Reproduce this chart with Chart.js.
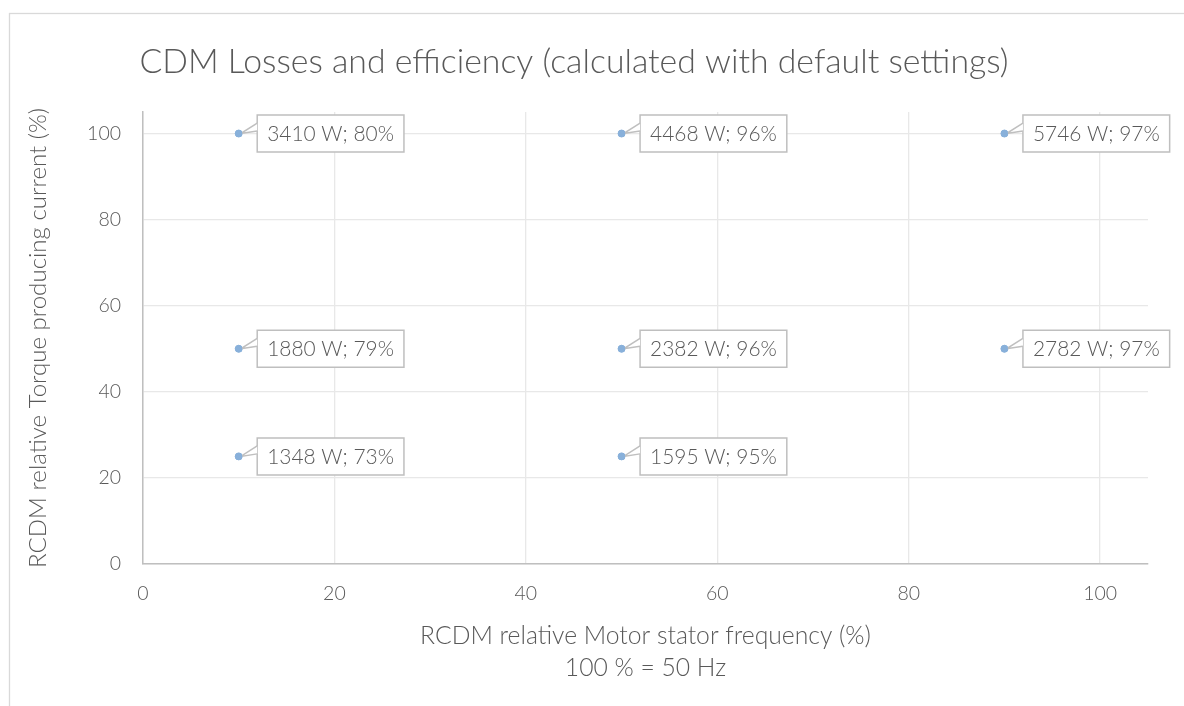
<!DOCTYPE html>
<html>
<head>
<meta charset="utf-8">
<script src="https://cdn.jsdelivr.net/npm/chart.js@4/dist/chart.umd.min.js"></script>
<style>
html,body{margin:0;padding:0;background:#fff;}
#wrap{position:relative;width:1184px;height:706px;}
</style>
</head>
<body>
<div id="wrap"><canvas id="c" width="1184" height="706"></canvas></div>
<script>
// ---- Data ----
const freq = [10, 10, 10, 50, 50, 50, 90, 90];          // RCDM relative Motor stator frequency (%)
const torque = [100, 50, 25, 100, 50, 25, 100, 50];     // RCDM relative Torque producing current (%)
const losses = [3410, 1880, 1348, 4468, 2382, 1595, 5746, 2782]; // W
const efficiency = [80, 79, 73, 96, 96, 95, 97, 97];    // %
const xTicks = [0, 20, 40, 60, 80, 100];
const yTicks = [0, 20, 40, 60, 80, 100];

const titleText = 'CDM Losses and efficiency (calculated with default settings)';
const xTitle = ['RCDM relative Motor stator frequency (%)', '100 % = 50 Hz'];
const yTitle = 'RCDM relative Torque producing current (%)';

const points = freq.map((f, i) => ({x: f, y: torque[i]}));
const labels = losses.map((l, i) => `${l} W; ${efficiency[i]}%`);

const FONT = 'Lato, "Open Sans", sans-serif';
const TXT = '#595959';

// font sizes fitted to the widths seen in the reference
const mctx = document.createElement('canvas').getContext('2d');
function fit(text, target) {
  mctx.font = '300 100px ' + FONT;
  return +(100 * target / mctx.measureText(text).width).toFixed(1);
}
const titleSize = fit(titleText, 868);
const xTitleSize = fit(xTitle[0], 452);
const yTitleSize = fit(yTitle, 460);
const tickSize = fit('100', 34);
const labelSize = fit(labels[0], 127);

const frame = {
  id: 'frame',
  beforeDraw(chart) {
    const c = chart.ctx;
    c.save();
    c.fillStyle = '#fff';
    c.fillRect(0, 0, chart.width, chart.height);
    c.strokeStyle = '#d9d9d9';
    c.lineWidth = 1.3;
    c.strokeRect(9.5, 13.5, 1400, 900);
    c.restore();
  }
};

const callouts = {
  id: 'callouts',
  afterDatasetsDraw(chart) {
    const c = chart.ctx;
    const meta = chart.getDatasetMeta(0);
    c.save();
    c.font = '300 ' + labelSize + 'px ' + FONT;
    c.textBaseline = 'middle';
    c.textAlign = 'left';
    meta.data.forEach((pt, i) => {
      const txt = labels[i];
      const w = c.measureText(txt).width + 20;
      const h = 37;
      const bx = pt.x + 18.5;
      const by = pt.y - 18.5;
      c.fillStyle = '#fff';
      c.strokeStyle = '#bfbfbf';
      c.lineWidth = 1.5;
      c.beginPath();
      c.rect(bx, by, w, h);
      c.fill();
      c.stroke();
      c.beginPath();
      c.moveTo(bx, by + 8);
      c.lineTo(pt.x + 2, pt.y);
      c.lineTo(bx, by + 16);
      c.closePath();
      c.fill();
      c.beginPath();
      c.moveTo(bx, by + 8);
      c.lineTo(pt.x + 2, pt.y);
      c.lineTo(bx, by + 16);
      c.stroke();
      c.fillStyle = TXT;
      c.fillText(txt, bx + 10, by + h / 2 + 1);
      c.fillStyle = '#88b0da';
      c.beginPath();
      c.arc(pt.x, pt.y, 3.5, 0, Math.PI * 2);
      c.fill();
    });
    c.restore();
  }
};

new Chart(document.getElementById('c'), {
  type: 'scatter',
  data: {
    datasets: [{
      data: points,
      backgroundColor: '#88b0da',
      borderColor: '#88b0da',
      pointRadius: 3.5,
      pointHoverRadius: 3.5,
      showLine: false
    }]
  },
  options: {
    responsive: false,
    animation: false,
    events: [],
    layout: {padding: {left: 0, right: 36, top: 0, bottom: 0}},
    plugins: {
      legend: {display: false},
      tooltip: {enabled: false},
      title: {
        display: true,
        text: titleText,
        color: TXT,
        font: {family: FONT, size: titleSize, weight: '300', lineHeight: '36px'},
        padding: {top: 44, bottom: 32}
      }
    },
    scales: {
      x: {
        type: 'linear',
        min: 0, max: 105,
        afterBuildTicks: s => { s.ticks = xTicks.map(v => ({value: v})); },
        afterFit: s => { s.height = 142; },
        ticks: {includeBounds: false, color: TXT, padding: 18, font: {family: FONT, size: tickSize, weight: '300'}},
        grid: {color: '#e8e8e8', lineWidth: 1.3, drawTicks: false},
        border: {color: '#bfbfbf', width: 1.5},
        title: {display: true, text: xTitle, color: TXT,
          font: {family: FONT, size: xTitleSize, weight: '300', lineHeight: '32px'},
          padding: {top: 0, bottom: 22}}
      },
      y: {
        type: 'linear',
        min: 0, max: 105,
        afterBuildTicks: s => { s.ticks = yTicks.map(v => ({value: v})); },
        afterFit: s => { s.width = 143; },
        ticks: {includeBounds: false, color: TXT, padding: 22, font: {family: FONT, size: tickSize, weight: '300'}},
        grid: {color: '#e8e8e8', lineWidth: 1.3, drawTicks: false},
        border: {color: '#bfbfbf', width: 1.5},
        title: {display: true, text: yTitle, color: TXT,
          font: {family: FONT, size: yTitleSize, weight: '300', lineHeight: '24px'},
          padding: {top: 26, bottom: 0}}
      }
    }
  },
  plugins: [frame, callouts]
});
</script>
</body>
</html>
